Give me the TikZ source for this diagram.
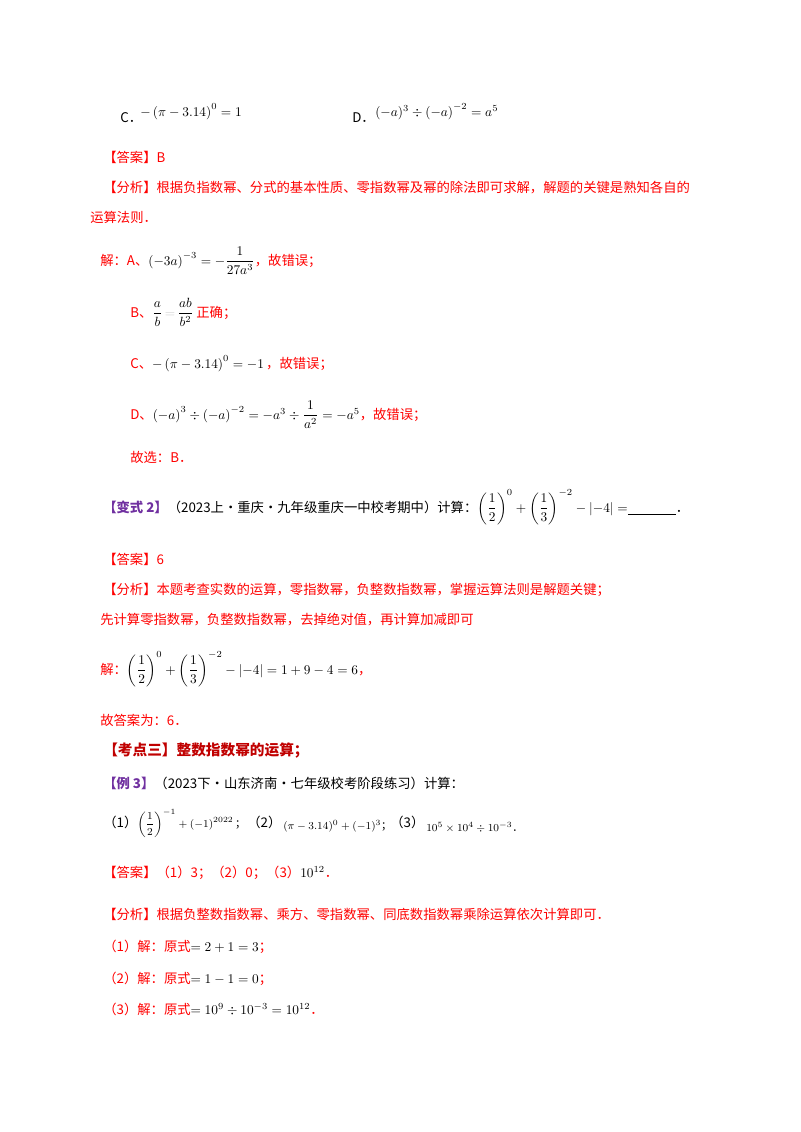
\documentclass[tikz,border=0pt]{standalone}
\usepackage{amsmath}
\usepackage{fontspec}
\setmainfont{Noto Sans CJK SC}
\definecolor{ared}{RGB}{255,0,0}
\definecolor{apur}{RGB}{112,48,160}
\definecolor{adred}{RGB}{192,0,0}
\begin{document}
\begin{tikzpicture}[x=0.75pt,y=-0.75pt,font=\fontsize{10}{12}\selectfont,
  every node/.style={anchor=base west,inner sep=0pt},
  rt/.style={text=ared},
  bk/.style={text=black},
  sm/.style={text=black,font=\fontsize{8}{10}\selectfont}]
\useasboundingbox (0,0) rectangle (800,1132);
\node[bk] (c) at (120,122) {C．};
\node[bk] (cf) at (140,116) {$-\left(\pi-3.14\right)^{0}=1$};
\node[bk] (d) at (352,122) {D．};
\node[bk] (df) at (375,116) {$(-a)^3\div\left(-a\right)^{-2}=a^5$};
\node[rt] (a1) at (103,162) {【答案】B};
\node[rt] (f1) at (103,192) {【分析】根据负指数幂、分式的基本性质、零指数幂及幂的除法即可求解，解题的关键是熟知各自的};
\node[rt] (f1b) at (90,222) {运算法则．};
\node[rt] (sa) at (100,265) {解：A、\textcolor{black}{$\left(-3a\right)^{-3}=-\dfrac{1}{27a^3}$}，故错误；};
\node[rt] (sb) at (130,317) {B、\textcolor{black}{$\dfrac{a}{b}\,{\color{gray!40}=}\,\dfrac{ab}{b^2}$} 正确；};
\node[rt] (sc) at (130,368) {C、\textcolor{black}{$-\left(\pi-3.14\right)^{0}=-1$}\,，故错误；};
\node[rt] (sd) at (130,419) {D、\textcolor{black}{$\left(-a\right)^3\div\left(-a\right)^{-2}=-a^3\div\dfrac{1}{a^2}=-a^5$}，故错误；};
\node[rt] (sx) at (130,462) {故选：B．};
\node[bk] (v2) at (103,512) {\textcolor{apur}{\bfseries【变式 2】}（2023上·重庆·九年级重庆一中校考期中）计算：$\left(\dfrac12\right)^{0}+\left(\dfrac13\right)^{-2}-\left|-4\right|=$\underline{\hspace{36pt}}．};
\node[rt] (a2) at (103,564) {【答案】6};
\node[rt] (f2) at (103,594) {【分析】本题考查实数的运算，零指数幂，负整数指数幂，掌握运算法则是解题关键；};
\node[rt] (f2b) at (100,624) {先计算零指数幂，负整数指数幂，去掉绝对值，再计算加减即可};
\node[rt] (s2) at (100,674) {解：\textcolor{black}{$\left(\dfrac12\right)^{0}+\left(\dfrac13\right)^{-2}-\left|-4\right|=1+9-4=6$}，};
\node[rt] (g2) at (100,725) {故答案为：6．};
\node[text=adred,font=\fontsize{11}{13}\selectfont\bfseries] (k3) at (103,755) {【考点三】整数指数幂的运算；};
\node[bk] (e3) at (103,788) {\textcolor{apur}{\bfseries【例 3】}（2023下·山东济南·七年级校考阶段练习）计算：};
\node[bk] (p1) at (103,827) {（1）};
\node[sm] (p1f) at (137,827) {$\left(\dfrac12\right)^{-1}+\left(-1\right)^{2022}$\,；};
\node[bk] (p2) at (247,827) {（2）};
\node[sm] (p2f) at (283,829) {$(\pi-3.14)^0+(-1)^3$；};
\node[bk] (p3) at (390,827) {（3）};
\node[sm] (p3f) at (426,831) {$10^5\times10^4\div10^{-3}$．};
\node[rt] (a3) at (103,877) {【答案】（1）3；（2）0；（3）\textcolor{black}{$10^{12}$}．};
\node[rt] (f3) at (103,919) {【分析】根据负整数指数幂、乘方、零指数幂、同底数指数幂乘除运算依次计算即可．};
\node[rt] (r1) at (103,951) {（1）解：原式\textcolor{black}{$=2+1=3$}；};
\node[rt] (r2) at (103,983) {（2）解：原式\textcolor{black}{$=1-1=0$}；};
\node[rt] (r3) at (103,1014) {（3）解：原式\textcolor{black}{$=10^9\div10^{-3}=10^{12}$}．};
\end{tikzpicture}
\end{document}
